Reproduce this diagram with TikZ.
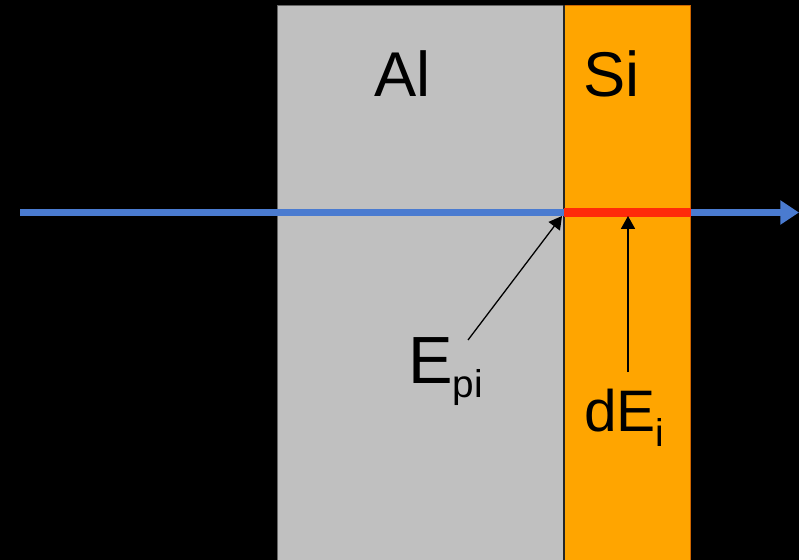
\documentclass[tikz,border=0pt]{standalone}
\usepackage{fontspec}
\setmainfont{Liberation Sans}
\usetikzlibrary{arrows.meta, positioning}
\definecolor{slabgray}{HTML}{C0C0C0}
\definecolor{slaborange}{HTML}{FFA500}
\definecolor{beamblue}{HTML}{4A7BD0}
\definecolor{lossred}{HTML}{FF2A0A}
\newcommand{\lowsub}[2][12pt]{\raisebox{-#1}{\fontsize{33}{36}\selectfont #2}}

\begin{document}
\begin{tikzpicture}[x=0.03cm, y=-0.03cm]

\tikzset{
  slab/.style={rectangle, anchor=north west, inner sep=0pt,
    minimum height=16.65cm},
  tag/.style={anchor=base west, inner sep=0pt, text=black},
  beam/.style={line width=6.5pt, beamblue,
    -{Triangle[length=16pt, width=20pt]}},
  loss/.style={line width=7pt, lossred},
  pointer/.style={line width=1.1pt, black,
    -{Triangle[length=11pt, width=12pt]}}
}

% ---- BACKGROUND ----
\fill[black] (0,0) rectangle (799,560);
\useasboundingbox (0,0) rectangle (799,560);

% ---- SLABS ----
\node (al) [slab, fill=slabgray, draw=black!60, line width=0.6pt,
  minimum width=8.58cm] at (277,5) {};
\node (si) [slab, fill=slaborange, draw=orange!80!black, line width=0.6pt,
  minimum width=3.78cm] at (564,5) {};
\draw[line width=1.6pt, black!85] (al.north east) -- (al.south east);

% ---- LABELS ----
\node (lblal) [tag, font=\fontsize{54}{60}\selectfont] at (374,96) {Al};
\node (lblsi) [tag, font=\fontsize{54}{60}\selectfont] at (583,96) {Si};
\node (epi)   [tag, font=\fontsize{57}{62}\selectfont] at (408,383)
  {E\lowsub{pi}};
\node (dei)   [tag, font=\fontsize{50}{56}\selectfont] at (584,431)
  {dE\lowsub[13pt]{i}};

% ---- BEAM ----
\coordinate (src) at (20,212.5);
\coordinate (tip) at (799,212.5);
\draw[beam] (src) -- (tip);
\draw[loss] (al.east |- src) -- (si.east |- src);

% ---- POINTERS ----
\coordinate (epifoot)  at (468,340);
\coordinate (entry)    at (562,216);
\coordinate (deifoot)  at (628,372);
\coordinate (deposit)  at (628,216);
\draw[pointer] (epifoot) -- (entry);
\draw[pointer] (deifoot) -- (deposit);

\end{tikzpicture}
\end{document}
